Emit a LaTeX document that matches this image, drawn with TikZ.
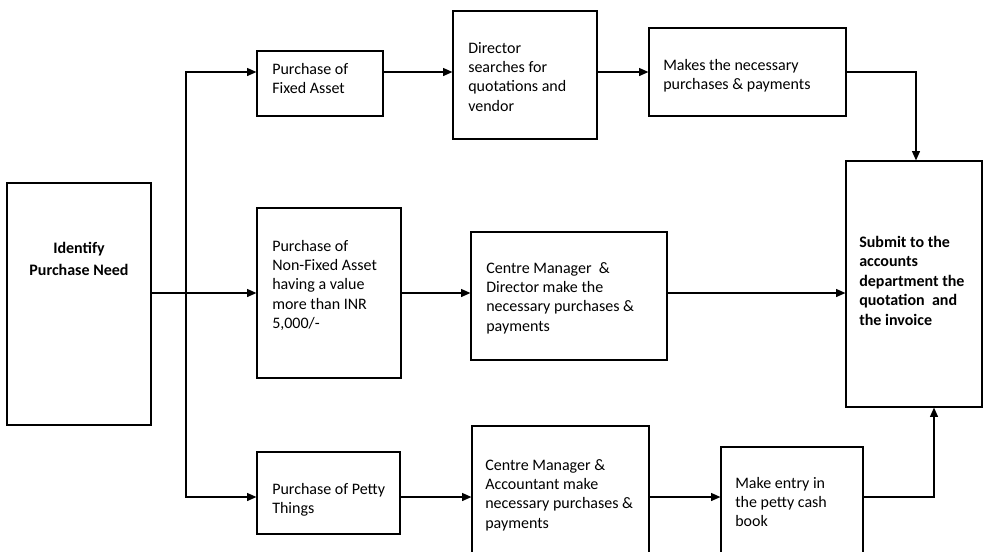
\documentclass[tikz,border=0pt]{standalone}
\usepackage{fontspec}
\setmainfont{Carlito}
\usetikzlibrary{arrows.meta}
\begin{document}
\begin{tikzpicture}[x=0.75pt,y=-0.75pt,
  box/.style={draw, line width=0.9pt, inner sep=0pt},
  wh/.style 2 args={minimum width=#1*0.75pt, minimum height=#2*0.75pt},
  txt/.style={anchor=north west, align=left, inner sep=0pt, font=\fontsize{12pt}{14.5pt}\selectfont},
  btxt/.style={txt, font=\fontsize{12pt}{14.6pt}\selectfont\bfseries},
  conn/.style={line width=0.9pt},
  arr/.style={conn, -{Triangle[length=7pt,width=6pt]}}]
\clip (0,0) rectangle (983,551);
\fill[white] (0,0) rectangle (983,551);

% boxes
\node[box, wh={144}{242}] (idn) at (79,304) {};
\node[box, wh={126}{65}]  (fa)  at (320,83.5) {};
\node[box, wh={144}{128}] (dir) at (525,75) {};
\node[box, wh={197}{88}]  (mk)  at (747.5,72) {};
\node[box, wh={136}{246}] (sub) at (914,284) {};
\node[box, wh={144}{170}] (nf)  at (329,293) {};
\node[box, wh={196}{128}] (cmd) at (569,296) {};
\node[box, wh={143}{82}]  (pt)  at (328.5,493) {};
\node[box, wh={177}{174}] (cma) at (560.5,513) {};
\node[box, wh={142}{153}] (me)  at (792,523.5) {};

% texts
\node[anchor=north, align=center, inner sep=0pt, font=\fontsize{12pt}{16.5pt}\selectfont\bfseries] (tidn) at (79,239.7) {\rule{0pt}{10pt}Identify\\Purchase Need};
\node[txt] (tfa)  at (272,60.7)  {\rule{0pt}{10pt}Purchase of\\Fixed Asset};
\node[txt] (tdir) at (468,39.7)  {\rule{0pt}{10pt}Director\\searches for\\quotations and\\vendor};
\node[txt] (tmk)  at (663,56.7)  {\rule{0pt}{10pt}Makes the necessary\\purchases \& payments};
\node[txt] (tnf)  at (272,237.7) {\rule{0pt}{10pt}Purchase of\\Non-Fixed Asset\\having a value\\more than INR\\5,000/-};
\node[txt] (tcmd) at (486,259.7) {\rule{0pt}{10pt}Centre Manager \ \&\\Director make the\\necessary purchases \&\\payments};
\node[btxt] (tsub) at (859,233.7) {\rule{0pt}{10pt}Submit to the\\accounts\\department the\\quotation \ and\\the invoice};
\node[txt] (tpt)  at (272,480.7) {\rule{0pt}{10pt}Purchase of Petty\\Things};
\node[txt] (tcma) at (485,456.7) {\rule{0pt}{10pt}Centre Manager \&\\Accountant make\\necessary purchases \&\\payments};
\node[txt] (tme)  at (735,474.7) {\rule{0pt}{10pt}Make entry in\\the petty cash\\book};

% connector rows/columns
\coordinate (r1) at (0,72);
\coordinate (r2) at (0,293);
\coordinate (r3) at (0,497);
\coordinate (bx) at (186,0);
\coordinate (c1) at (916,0);
\coordinate (c2) at (934,0);

\draw[arr] (idn.east |- r2) -- (nf.west |- r2);
\draw[arr] (bx |- r2) |- (fa.west |- r1);
\draw[arr] (bx |- r2) |- (pt.west |- r3);
\draw[arr] (fa.east |- r1) -- (dir.west |- r1);
\draw[arr] (dir.east |- r1) -- (mk.west |- r1);
\draw[arr] (mk.east |- r1) -| (c1 |- sub.north);
\draw[arr] (nf.east |- r2) -- (cmd.west |- r2);
\draw[arr] (cmd.east |- r2) -- (sub.west |- r2);
\draw[arr] (pt.east |- r3) -- (cma.west |- r3);
\draw[arr] (cma.east |- r3) -- (me.west |- r3);
\draw[arr] (me.east |- r3) -| (c2 |- sub.south);
\end{tikzpicture}
\end{document}
